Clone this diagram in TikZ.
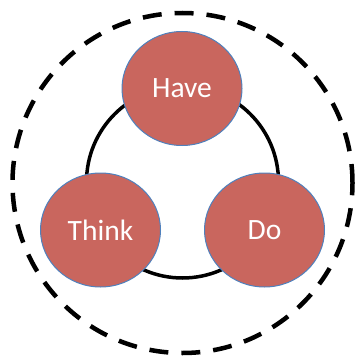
\documentclass[tikz,border=0pt]{standalone}
\usepackage{fontspec}
\setmainfont{Carlito}
\usetikzlibrary{shapes.geometric,positioning}
\definecolor{petal}{RGB}{201,102,94}
\definecolor{rim}{RGB}{79,129,189}

\begin{document}
\begin{tikzpicture}[
	x=1pt,y=-1pt,
	stage/.style={
		draw=rim,
		fill=petal,
		ellipse,
		line width=1pt,
		minimum width=120pt,
		minimum height=114pt,
		inner sep=0pt,
		text=white,
		font=\fontsize{29.5}{33}\selectfont
	},
	ring/.style={
		draw=black,
		circle,
		inner sep=0pt
	}
	]
	\useasboundingbox (0,0) rectangle (355,358);
	% outer and inner loops
	\node[ring,line width=4.5pt,dash pattern=on 19pt off 13pt,minimum size=340pt] at (182.5,183) (outer) {};
	\node[ring,line width=3.5pt,minimum size=192pt] at (182.5,182) (loop) {};
	% the three stages
	\node[stage] at (182,88.5) (have) {Have};
	\node[stage] at (100.5,230) (think) {Think};
	\node[stage] at (264.5,230) (do) {Do};
\end{tikzpicture}
\end{document}
